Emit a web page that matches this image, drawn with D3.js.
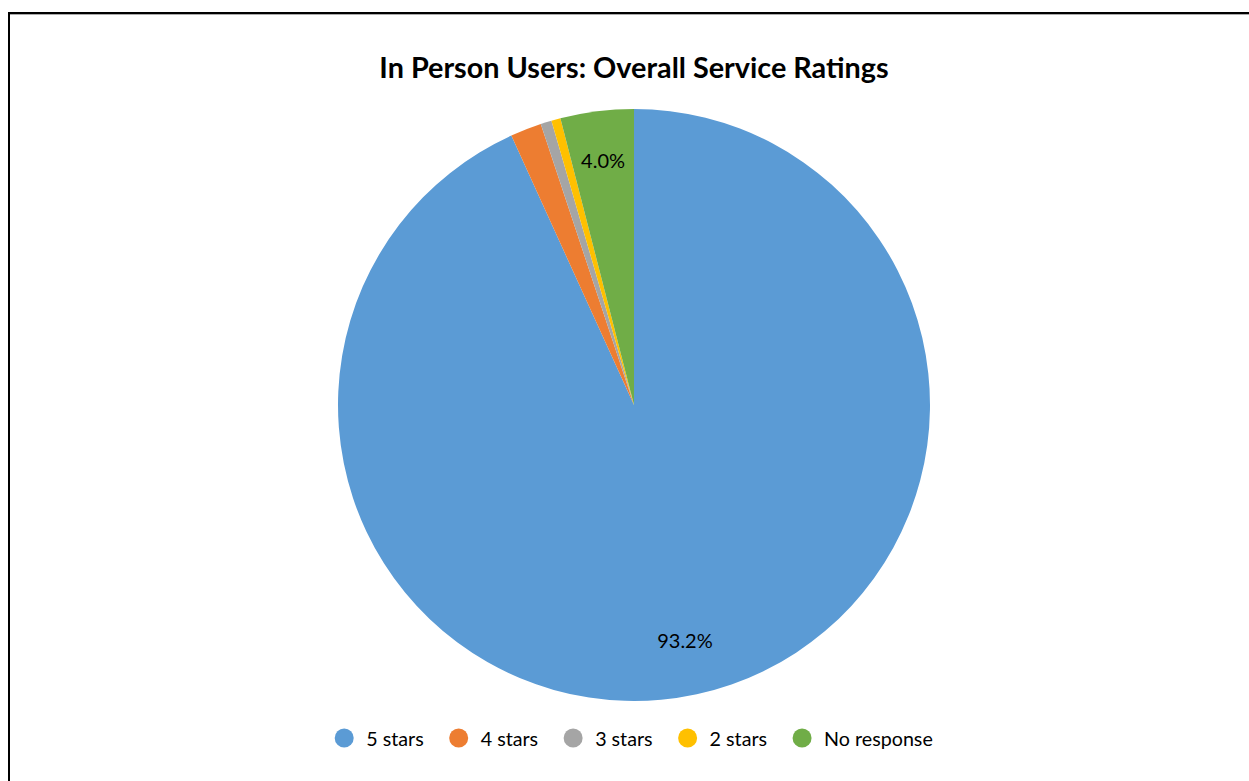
<!DOCTYPE html>
<html>
<head>
<meta charset="utf-8">
<script src="https://cdn.jsdelivr.net/npm/d3@7"></script>
<style>
  html, body { margin: 0; padding: 0; background: #fff; overflow: hidden; }
  svg { display: block; }
</style>
</head>
<body>
<svg id="chart" width="1249" height="781"></svg>
<script>
// Rating categories and their share of responses (%)
const categories = ["5 stars", "4 stars", "3 stars", "2 stars", "No response"];
const shares = [93.2, 1.7, 0.6, 0.5, 4.0];
const colors = ["#5B9BD5", "#ED7D31", "#A5A5A5", "#FFC000", "#70AD47"];
// Only these slices carry a data label
const labelled = ["5 stars", "No response"];

const title = "In Person Users: Overall Service Ratings";
const fontFamily = "Lato, 'Open Sans', sans-serif";

const svg = d3.select("#chart");
const W = 1249, H = 781;

// Chart frame (runs off the right and bottom edges)
svg.append("rect")
  .attr("x", 9).attr("y", 13)
  .attr("width", W + 20).attr("height", H + 20)
  .attr("fill", "#fff")
  .attr("stroke", "#000")
  .attr("stroke-width", 2);
svg.append("line")
  .attr("x1", 10).attr("x2", W).attr("y1", 14.5).attr("y2", 14.5)
  .attr("stroke", "#aaa").attr("stroke-width", 1);

// Title
svg.append("text")
  .attr("x", 634).attr("y", 78)
  .attr("text-anchor", "middle")
  .attr("font-family", fontFamily)
  .attr("font-weight", "bold")
  .attr("font-size", 28.8)
  .attr("fill", "#000")
  .text(title);

// Pie
const cx = 634, cy = 405, R = 296;
const data = categories.map((c, i) => ({ category: c, value: shares[i], color: colors[i] }));

const pie = d3.pie().value(d => d.value).sort(null);
const arc = d3.arc().innerRadius(0).outerRadius(R);
// Labels of wide slices sit a little further in than those of narrow slices
const labelRadius = d => (d.endAngle - d.startAngle > Math.PI ? 0.812 : 0.834) * R;
const labelPos = d => d3.arc().innerRadius(labelRadius(d)).outerRadius(labelRadius(d)).centroid(d);

const g = svg.append("g").attr("transform", `translate(${cx},${cy})`);
const arcs = pie(data);

g.selectAll("path.slice")
  .data(arcs)
  .join("path")
  .attr("class", "slice")
  .attr("d", arc)
  .attr("fill", d => d.data.color);

g.selectAll("text.label")
  .data(arcs.filter(d => labelled.includes(d.data.category)))
  .join("text")
  .attr("class", "label")
  .attr("transform", d => `translate(${labelPos(d)})`)
  .attr("text-anchor", "middle")
  .attr("dominant-baseline", "central")
  .attr("font-family", fontFamily)
  .attr("font-size", 20)
  .attr("fill", "#000")
  .text(d => d.data.value.toFixed(1) + "%");

// Legend, centred under the pie
const legend = svg.append("g");
const legendY = 738;
const items = legend.selectAll("g.item")
  .data(data)
  .join("g")
  .attr("class", "item");

items.append("circle")
  .attr("r", 9.5)
  .attr("cy", legendY)
  .attr("fill", d => d.color);

items.append("text")
  .attr("x", 22)
  .attr("y", legendY)
  .attr("dominant-baseline", "central")
  .attr("font-family", fontFamily)
  .attr("font-size", 19.7)
  .attr("fill", "#000")
  .text(d => d.category);

let xPos = 0;
items.each(function () {
  const item = d3.select(this);
  item.attr("transform", `translate(${xPos},0)`);
  const tw = item.select("text").node().getComputedTextLength();
  xPos += 22 + tw + 35;
});
const totalW = xPos - 35 + 9;
legend.attr("transform", `translate(${cx - totalW / 2 + 9},0)`);
</script>
</body>
</html>
